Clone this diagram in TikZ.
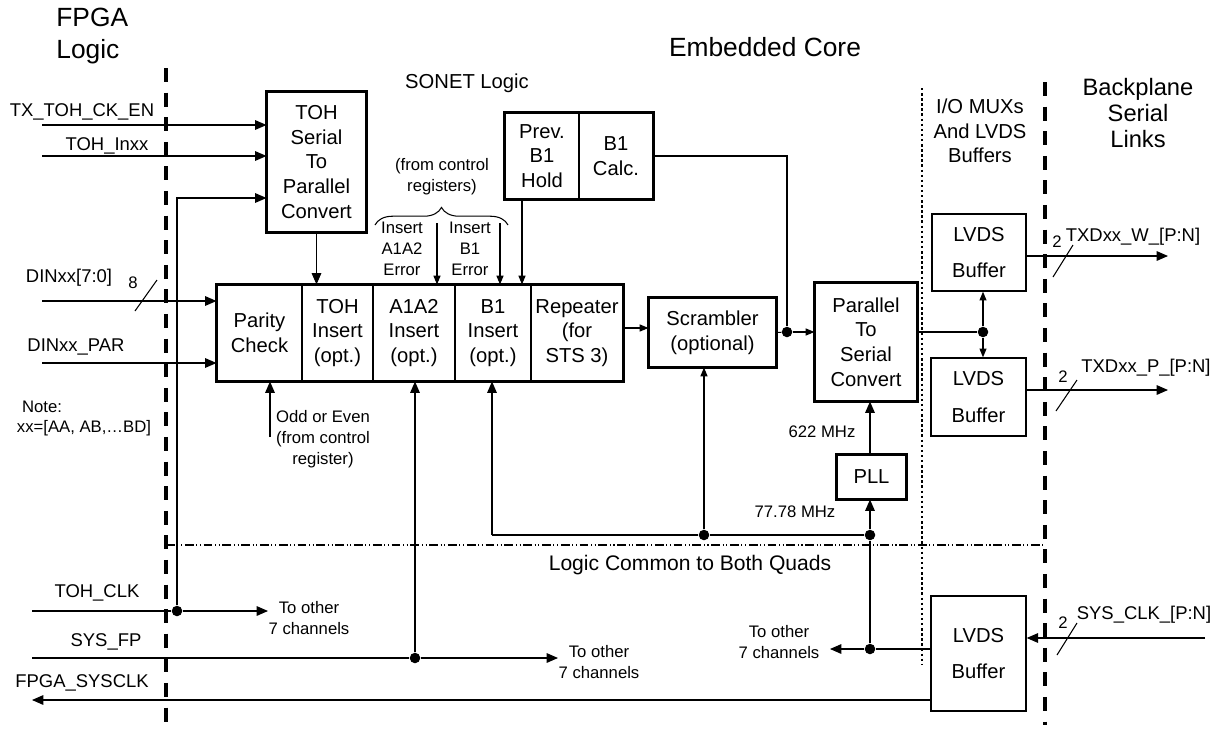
\documentclass[tikz,border=0pt]{standalone}
\usepackage{fontspec}
\setmainfont{Liberation Sans}
\usepackage{tikz}
\usetikzlibrary{calc,arrows.meta,decorations.pathreplacing}
\definecolor{ink}{HTML}{000000}
\newcommand\fBig{\fontsize{15}{18.5}\selectfont}
\newcommand\fBox{\fontsize{11.5}{14}\selectfont}
\newcommand\fLab{\fontsize{10.5}{12}\selectfont}
\newcommand\fSm{\fontsize{9.5}{12}\selectfont}
\tikzset{
  wire/.style={draw=ink, line width=0.6pt},
  arr/.style={wire, -{Triangle[length=6.5pt,width=5.5pt]}},
  arrs/.style={wire, -{Triangle[length=5pt,width=4pt]}},
  blk/.style={draw=ink, line width=1.8pt},
  cell/.style={draw=ink, line width=0.6pt, inner sep=0pt, align=center, font=\fBox},
  buf/.style={draw=ink, line width=0.8pt, inner sep=0pt, align=center,
    font=\fontsize{11.5}{21}\selectfont},
  dot/.style={circle, fill=ink, inner sep=0pt, minimum size=6pt},
  lab/.style={inner sep=0pt, font=\fLab},
  labs/.style={inner sep=0pt, font=\fSm, align=center},
  fence/.style={draw=ink, line width=2.3pt, dash pattern=on 8pt off 6pt},
  dotline/.style={draw=ink, line width=1.6pt, dash pattern=on 1.4pt off 1.5pt},
  quad/.style={draw=ink, line width=0.6pt,
    dash pattern=on 5pt off 1.5pt on 0.6pt off 1.5pt on 0.6pt off 1.5pt},
}
\begin{document}
\begin{tikzpicture}[x=0.02cm,y=-0.02cm]
  \useasboundingbox (0,0) rectangle (1225,731);
  % region borders
  \draw[fence] (166,68) -- (166,731);
  \draw[fence] (1045,82) -- (1045,725);
  \draw[dotline] (922,88) -- (922,665);
  \draw[quad] (166,545) -- (1043,545);
  % headings
  \node[font=\fBig, align=left, inner sep=0pt, anchor=west] (fpga) at (56,36) {FPGA\\Logic};
  \node[font=\fBig, inner sep=0pt] (core) at (765,47) {Embedded Core};
  \node[font=\fBox, inner sep=0pt] (sonet) at (467,83) {SONET Logic};
  \node[font=\fBox, align=center, inner sep=0pt] (iomux) at (980,131) {I/O MUXs\\And LVDS\\Buffers};
  \node[font=\fontsize{13.5}{14.7}\selectfont, align=center, inner sep=0pt] (bkpl) at (1138,113) {Backplane\\Serial\\Links};
  \node[font=\fontsize{12}{14}\selectfont, inner sep=0pt] (common) at (690,565) {Logic Common to Both Quads};
  % blocks
  \node[cell, minimum width=1.98cm, minimum height=2.8cm] (toh) at (316.5,162) {TOH\\Serial\\To\\Parallel\\Convert};
  \draw[blk] (toh.north west) rectangle (toh.south east);
  \node[cell, minimum width=1.48cm, minimum height=1.72cm] (prev) at (542,156) {Prev.\\B1\\Hold};
  \node[cell, minimum width=1.48cm, minimum height=1.72cm] (calc) at (616,156) {B1\\Calc.};
  \draw[blk] (prev.north west) rectangle (calc.south east);
  \node[cell, minimum width=1.70cm, minimum height=1.92cm] (parity) at (259.5,333) {Parity\\Check};
  \node[cell, minimum width=1.42cm, minimum height=1.92cm] (tohins) at (337.5,333) {TOH\\Insert\\(opt.)};
  \node[cell, minimum width=1.64cm, minimum height=1.92cm] (a1a2) at (414,333) {A1A2\\Insert\\(opt.)};
  \node[cell, minimum width=1.52cm, minimum height=1.92cm] (b1ins) at (493,333) {B1\\Insert\\(opt.)};
  \node[cell, minimum width=1.84cm, minimum height=1.92cm] (rep) at (577,333) {Repeater\\(for\\STS 3)};
  \draw[blk] (parity.north west) rectangle (rep.south east);
  \node[cell, minimum width=2.54cm, minimum height=1.38cm] (scr) at (712.5,332.5) {Scrambler\\(optional)};
  \draw[blk] (scr.north west) rectangle (scr.south east);
  \node[cell, minimum width=2.04cm, minimum height=2.36cm] (par) at (866,342) {Parallel\\To\\Serial\\Convert};
  \draw[blk] (par.north west) rectangle (par.south east);
  \node[cell, minimum width=1.38cm, minimum height=0.88cm] (pll) at (871.5,477) {PLL};
  \draw[blk] (pll.north west) rectangle (pll.south east);
  \node[buf, minimum width=1.88cm, minimum height=1.54cm] (lvdsw) at (979,252.5) {LVDS\\Buffer};
  \node[buf, minimum width=1.90cm, minimum height=1.56cm] (lvdsp) at (978.5,397) {LVDS\\Buffer};
  \node[buf, minimum width=1.90cm, minimum height=2.30cm] (lvdsb) at (978.5,653.5) {LVDS\\Buffer};
  % junctions
  \node[dot] (tohclkDot) at (177,611) {};
  \node[dot] (sysfpDot) at (415,658) {};
  \node[dot] (scrDot) at (787,332) {};
  \node[dot] (outDot) at (983,332) {};
  \node[dot] (pllDot) at (870,535) {};
  \node[dot] (scrInDot) at (704,535) {};
  \node[dot] (clkDot) at (870,649) {};
  % free ends
  \coordinate (txIn) at (42,125);
  \coordinate (tohIn) at (42,156);
  \coordinate (dinIn) at (42,301);
  \coordinate (parIn) at (42,363);
  \coordinate (tohclkIn) at (32,611);
  \coordinate (tohclkOut) at (268,611);
  \coordinate (sysfpIn) at (32,658);
  \coordinate (sysfpOut) at (558,658);
  \coordinate (sysclkOut) at (32,700);
  \coordinate (coreOut) at (830,649);
  \coordinate (txwOut) at (1168,256);
  \coordinate (txpOut) at (1168,390);
  \coordinate (sysclkIn) at (1205,638);
  \coordinate (a1a2Err) at (437,223);
  \coordinate (b1Err) at (500,223);
  \coordinate (oddEven) at (270,437);
  \coordinate (b1Turn) at (492,535);
  \coordinate (holdOut) at ($(prev.south)+(-20,0)$);
  \coordinate (repOut) at ($(rep.east)+(0,-5)$);
  \coordinate (tohFb) at ($(toh.west)+(0,36)$);
  % connectors
  \draw[arr] (txIn) -- (txIn -| toh.west);
  \draw[arr] (tohIn) -- (tohIn -| toh.west);
  \draw[wire] (tohclkIn) -- (tohclkDot);
  \draw[arr] (tohclkDot) -- (tohclkOut);
  \draw[arr] (tohclkDot) |- (tohFb);
  \draw[arr] (dinIn) -- (dinIn -| parity.west);
  \draw[arr] (parIn) -- (parIn -| parity.west);
  \draw[arr] (toh.south) -- (toh.south |- tohins.north);
  \draw[arrs] (a1a2Err) -- (a1a2Err |- a1a2.north);
  \draw[arrs] (b1Err) -- (b1Err |- b1ins.north);
  \draw[arrs] (holdOut) -- (holdOut |- b1ins.north);
  \draw[wire] (calc.east) -| (scrDot);
  \draw[arrs] (repOut) -- (repOut -| scr.west);
  \draw[wire] (scr.east) -- (scrDot);
  \draw[arrs] (scrDot) -- (scrDot -| par.west);
  \draw[wire] (scrDot -| par.east) -- (outDot);
  \draw[arrs] (outDot) -- (outDot |- lvdsw.south);
  \draw[arrs] (outDot) -- (outDot |- lvdsp.north);
  \draw[arr] (txwOut -| lvdsw.east) -- (txwOut);
  \draw[arr] (txpOut -| lvdsp.east) -- (txpOut);
  \draw[arr] (sysclkIn) -- (sysclkIn -| lvdsb.east);
  \draw[wire] (clkDot -| lvdsb.west) -- (clkDot);
  \draw[arr] (clkDot) -- (coreOut);
  \draw[wire] (clkDot) -- (pllDot);
  \draw[arr] (pllDot) -- (pllDot |- pll.south);
  \draw[arr] (pllDot |- pll.north) -- (pllDot |- par.south);
  \draw[wire] (pllDot) -- (scrInDot) -- (b1Turn);
  \draw[arr] (b1Turn) -- (b1Turn |- b1ins.south);
  \draw[arrs] (scrInDot) -- (scrInDot |- scr.south);
  \draw[wire] (sysfpIn) -- (sysfpDot);
  \draw[arr] (sysfpDot) -- (sysfpOut);
  \draw[arr] (sysfpDot) -- (sysfpDot |- a1a2.south);
  \draw[arr] (sysclkOut -| lvdsb.west) -- (sysclkOut);
  \draw[arr] (oddEven) -- (oddEven |- parity.south);
  % bus widths
  \draw[wire] (135,311) -- (157,280);
  \draw[wire] (1053,277) -- (1073,245);
  \draw[wire] (1056,411) -- (1077,380);
  \draw[wire] (1057,655) -- (1077,623);
  \node[labs] (bus8) at (133,283) {8};
  \node[labs] (busW) at (1057,242) {2};
  \node[labs] (busP) at (1063,377) {2};
  \node[labs] (busC) at (1063,623) {2};
  % brace
  \draw[wire, decorate, decoration={brace, amplitude=10pt, aspect=0.5}] (375,225) -- (508,225);
  % signal labels
  \node[lab] (txLab) at (82,112) {TX\_TOH\_CK\_EN};
  \node[lab] (tohLab) at (107,146) {TOH\_Inxx};
  \node[lab] (dinLab) at (69,278) {DINxx[7:0]};
  \node[lab] (parLab) at (76,347) {DINxx\_PAR};
  \node[labs] (noteLab) at (42,407) {Note:};
  \node[labs] (xxLab) at (84,428) {xx=[AA, AB,…BD]};
  \node[lab] (clkLab) at (97,593) {TOH\_CLK};
  \node[lab] (fpLab) at (106,642) {SYS\_FP};
  \node[lab] (sysLab) at (82,683) {FPGA\_SYSCLK};
  \node[labs] (ctrlLab) at (442,177) {(from control\\registers)};
  \node[labs] (a1a2Lab) at (402,249) {Insert\\A1A2\\Error};
  \node[labs] (b1Lab) at (470,249) {Insert\\B1\\Error};
  \node[labs] (oddLab) at (323,439) {Odd or Even\\(from control\\register)};
  \node[labs] (toA) at (309,618) {To other\\7 channels};
  \node[labs] (toB) at (599,662) {To other\\7 channels};
  \node[labs] (toC) at (779,642) {To other\\7 channels};
  \node[labs] (mhzA) at (822,432) {622 MHz};
  \node[labs] (mhzB) at (795,512) {77.78 MHz};
  \node[lab] (txwLab) at (1133,237) {TXDxx\_W\_[P:N]};
  \node[lab] (txpLab) at (1146,368) {TXDxx\_P\_[P:N]};
  \node[lab] (clkInLab) at (1144,615) {SYS\_CLK\_[P:N]};
\end{tikzpicture}
\end{document}
